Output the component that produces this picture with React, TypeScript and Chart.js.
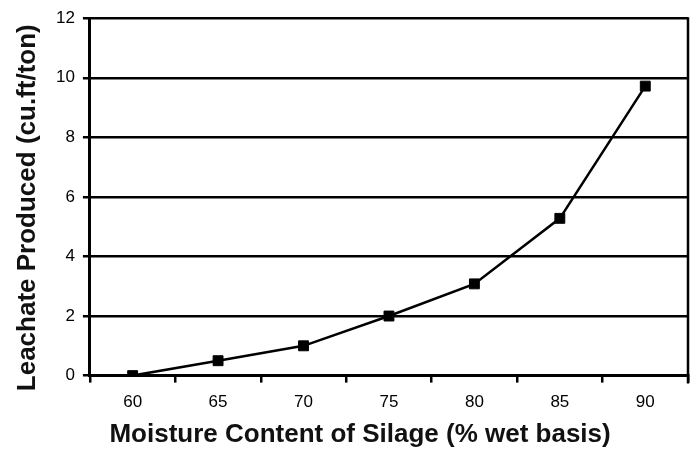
import React, { useEffect, useRef } from "react";
import { Chart, registerables } from "chart.js";

Chart.register(...registerables);

const categories = ["60", "65", "70", "75", "80", "85", "90"];
const leachate = [0, 0.5, 1.0, 2.0, 3.08, 5.28, 9.72];
const yTicks = [0, 2, 4, 6, 8, 10, 12];
const xTitle = "Moisture Content of Silage (% wet basis)        ";
const yTitle = "Leachate Produced (cu.ft/ton)   ";

const FONT = "'Liberation Sans', Arial, sans-serif";

const rightBorder = {
  id: "rightBorder",
  afterDraw(chart: any) {
    const { ctx, chartArea } = chart;
    ctx.save();
    ctx.strokeStyle = "#000";
    ctx.lineWidth = 2.5;
    ctx.beginPath();
    ctx.moveTo(chartArea.right, chartArea.top - 1);
    ctx.lineTo(chartArea.right, chartArea.bottom + 8);
    ctx.stroke();
    ctx.restore();
  },
};

export default function App() {
  const ref = useRef<HTMLCanvasElement>(null);
  useEffect(() => {
    document.body.style.margin = "0";
    const chart = new Chart(ref.current!, {
      type: "line",
      data: {
        labels: categories,
        datasets: [
          {
            data: leachate,
            borderColor: "#000",
            backgroundColor: "#000",
            borderWidth: 2.5,
            pointStyle: "rect",
            pointRadius: 7,
            pointHoverRadius: 7,
            pointBorderWidth: 1,
            tension: 0,
          },
        ],
      },
      options: {
        animation: false,
        responsive: false,
        layout: { padding: { top: 8, right: 6, left: 15, bottom: 1 } },
        plugins: { legend: { display: false }, tooltip: { enabled: false } },
        scales: {
          x: {
            offset: true,
            grid: {
              offset: true,
              drawOnChartArea: false,
              color: "#000",
              lineWidth: 2.5,
              tickLength: 7,
            },
            border: { color: "#000", width: 3 },
            ticks: { color: "#000", font: { family: FONT, size: 17 }, padding: 10 },
            title: {
              display: true,
              text: xTitle,
              color: "#111",
              font: { family: FONT, size: 26, weight: "bold", lineHeight: 1 },
              padding: { top: -1, bottom: 0 },
            },
          },
          y: {
            min: 0,
            max: 12,
            afterBuildTicks: (axis: any) => {
              axis.ticks = yTicks.map((v) => ({ value: v }));
            },
            grid: { color: "#000", lineWidth: 2.5, tickLength: 7 },
            border: { color: "#000", width: 3 },
            ticks: { color: "#000", font: { family: FONT, size: 17 }, padding: 8 },
            title: {
              display: true,
              text: yTitle,
              color: "#111",
              font: { family: FONT, size: 26, weight: "bold", lineHeight: 1 },
              padding: { top: 0, bottom: 7 },
            },
          },
        },
      },
      plugins: [rightBorder],
    });
    return () => chart.destroy();
  }, []);
  return (
    <div style={{ width: 696, height: 449 }}>
      <canvas ref={ref} width={696} height={449} />
    </div>
  );
}
